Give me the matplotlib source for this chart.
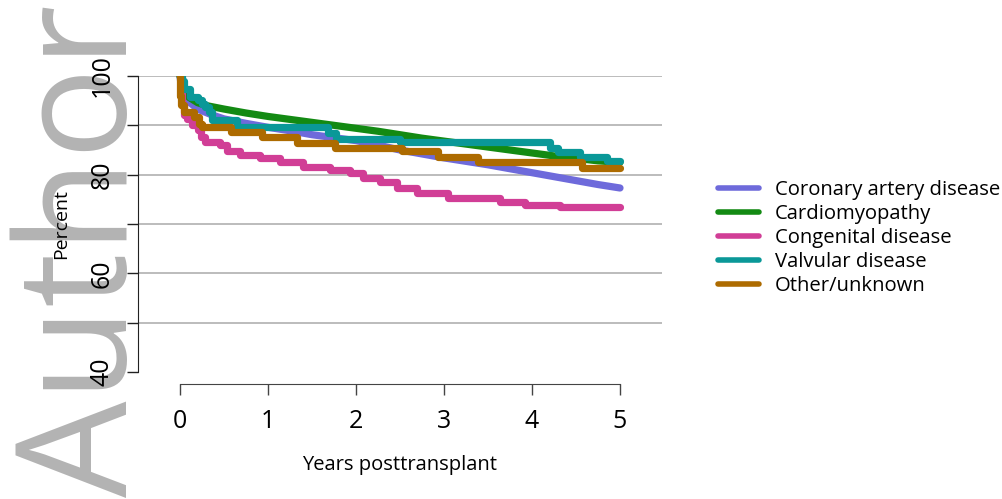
import matplotlib
matplotlib.use("Agg")
import matplotlib.pyplot as plt

plt.rcParams['font.family'] = ['Open Sans', 'DejaVu Sans']

# ---- data ----
series_names = ["Coronary artery disease", "Cardiomyopathy", "Congenital disease",
                "Valvular disease", "Other/unknown"]
series_colors = ["#6e6adb", "#138a13", "#d13e96", "#0a9898", "#ad6b00"]
series_stepped = [False, False, True, True, True]

cad_t = [0, 0.02, 0.1, 0.2, 0.35, 0.5, 0.75, 1.0, 1.25, 1.5, 1.75, 2.0, 2.25, 2.5,
         2.75, 3.0, 3.25, 3.5, 3.75, 4.0, 4.25, 4.5, 4.75, 5.0]
cad_s = [100, 97, 94.8, 93.3, 92.2, 91.3, 90.4, 89.6, 88.9, 88.1, 87.5, 86.9, 86.0, 85.0,
         84.2, 83.4, 82.7, 82.0, 81.2, 80.4, 79.6, 78.8, 78.0, 77.3]

cm_t = [0, 0.03, 0.1, 0.2, 0.3, 0.5, 0.75, 1.0, 1.25, 1.5, 1.75, 2.0, 2.25, 2.5,
        2.75, 3.0, 3.25, 3.5, 3.75, 4.0, 4.25, 4.5, 4.75, 5.0]
cm_s = [100, 98, 95.7, 94.6, 94.0, 93.3, 92.5, 91.8, 91.2, 90.6, 90.0, 89.4, 88.8, 88.1,
        87.4, 86.8, 86.2, 85.6, 85.0, 84.4, 83.8, 83.3, 82.8, 82.5]

cong_t = [0, 0.01, 0.02, 0.04, 0.08, 0.14, 0.2, 0.24, 0.28, 0.45, 0.53, 0.68, 0.91,
          1.14, 1.40, 1.70, 1.93, 2.08, 2.27, 2.47, 2.69, 3.05, 3.64, 3.92, 4.32, 5.0]
cong_s = [100, 96.8, 94.1, 92.1, 91.3, 90.1, 89.1, 87.6, 86.6, 86.0, 84.7, 84.0, 83.4,
          82.6, 81.6, 80.9, 80.3, 79.3, 78.5, 77.3, 76.3, 75.3, 74.5, 73.9, 73.4, 73.4]

val_t = [0, 0.02, 0.05, 0.11, 0.2, 0.25, 0.28, 0.33, 0.36, 0.65, 1.68, 1.77, 2.5,
         4.2, 4.3, 4.55, 4.85, 5.0]
val_s = [100, 99, 97.4, 95.7, 95.1, 94.3, 93.7, 92.7, 91.1, 89.6, 88.4, 87.3, 86.6,
         85.4, 84.6, 83.6, 82.7, 82.7]

oth_t = [0, 0.005, 0.01, 0.05, 0.16, 0.22, 0.25, 0.58, 0.93, 1.33, 1.76, 2.52, 2.93,
         3.39, 4.57, 5.0]
oth_s = [100, 96, 94.1, 92.7, 91.7, 90.3, 89.7, 88.6, 87.6, 86.4, 85.4, 84.8, 83.6,
         82.5, 81.4, 81.4]

series_t = [cad_t, cm_t, cong_t, val_t, oth_t]
series_s = [cad_s, cm_s, cong_s, val_s, oth_s]

x_ticks = [0, 1, 2, 3, 4, 5]
y_ticks = [40, 50, 60, 70, 80, 90, 100]
y_ticklabels = ["40", "", "60", "", "80", "", "100"]
grid_levels = [50, 60, 70, 80, 90, 100]

# ---- figure ----
W, H = 1003, 499
fig = plt.figure(figsize=(W / 100, H / 100), dpi=100)

# watermark
fig.text(127 / W, 2 / H, "Author", rotation=90, rotation_mode="anchor",
         ha="left", va="baseline", fontsize=110, color="#b3b3b3", zorder=-5)

ax = fig.add_axes([138 / W, 1 - 372 / H, 524 / W, 296 / H])
ax.set_facecolor("none")
ax.set_xlim(-42 / 88, 5 + 42 / 88)
ax.set_ylim(40, 100)

for g in grid_levels:
    ax.axhline(g, color="#aaaaaa", lw=1.1, zorder=1)

for t, s, c, n, st in zip(series_t, series_s, series_colors, series_names, series_stepped):
    if st:
        ax.step(t, s, where="post", color=c, lw=5.2, label=n,
                solid_capstyle="round", solid_joinstyle="round", zorder=3)
    else:
        ax.plot(t, s, color=c, lw=5.2, label=n,
                solid_capstyle="round", solid_joinstyle="round", zorder=3)

for sp in ["top", "right"]:
    ax.spines[sp].set_visible(False)
ax.spines["left"].set_bounds(40, 100)
ax.spines["bottom"].set_bounds(0, 5)
ax.spines["bottom"].set_position(("outward", 8.6))
ax.spines["left"].set_color("#222222")
ax.spines["bottom"].set_color("#444444")

ax.set_yticks(y_ticks)
ax.set_yticklabels(y_ticklabels, rotation=90, va="center")
ax.set_xticks(x_ticks)
ax.set_xticklabels([str(v) for v in x_ticks])
ax.tick_params(axis="y", length=8, width=1, color="#222222", labelsize=18, pad=9)
ax.tick_params(axis="x", length=8, width=1, color="#444444", labelsize=18, pad=10)

ax.set_xlabel("Years posttransplant", fontsize=14.5)
ax.xaxis.set_label_coords(0.5, -0.28)
ax.set_ylabel("Percent", fontsize=14)
ax.yaxis.set_label_coords(-0.13, 0.5)

leg = ax.legend(loc="center left", bbox_to_anchor=(718 / W, 1 - 238 / H),
                bbox_transform=fig.transFigure, frameon=False, fontsize=14.6,
                handlelength=2.0, handletextpad=0.8, labelspacing=0.2,
                borderaxespad=0, borderpad=0)
for ln in leg.get_lines():
    ln.set_linewidth(4)

fig.savefig("out.png", dpi=100)
